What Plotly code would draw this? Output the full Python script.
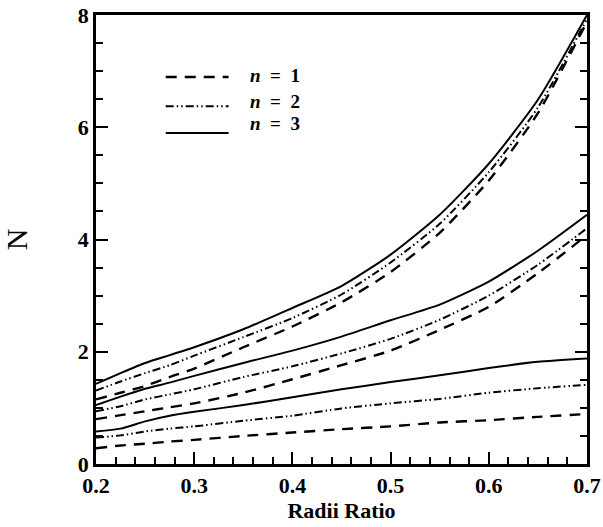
import plotly.graph_objects as go

# Radii ratio sample points
radii_ratio = [0.20, 0.225, 0.25, 0.275, 0.30, 0.35, 0.40, 0.45, 0.50, 0.55, 0.60, 0.65, 0.70]

# Upper family of curves
upper_n1 = [1.15, 1.27, 1.39, 1.55, 1.70, 2.08, 2.45, 2.88, 3.42, 4.12, 5.05, 6.25, 7.88]
upper_n2 = [1.31, 1.47, 1.62, 1.76, 1.93, 2.26, 2.60, 3.02, 3.59, 4.28, 5.20, 6.35, 7.93]
upper_n3 = [1.43, 1.62, 1.80, 1.94, 2.08, 2.40, 2.78, 3.17, 3.73, 4.44, 5.35, 6.49, 8.00]

# Middle family of curves
middle_n1 = [0.80, 0.87, 0.94, 1.01, 1.08, 1.27, 1.51, 1.76, 2.02, 2.39, 2.80, 3.40, 4.08]
middle_n2 = [0.94, 1.03, 1.15, 1.24, 1.33, 1.55, 1.74, 1.97, 2.23, 2.57, 3.00, 3.55, 4.20]
middle_n3 = [1.05, 1.20, 1.34, 1.45, 1.57, 1.80, 2.02, 2.27, 2.56, 2.84, 3.25, 3.80, 4.44]

# Lower family of curves
lower_n1 = [0.28, 0.33, 0.36, 0.40, 0.43, 0.50, 0.56, 0.62, 0.67, 0.74, 0.78, 0.84, 0.89]
lower_n2 = [0.47, 0.51, 0.58, 0.63, 0.67, 0.77, 0.86, 0.99, 1.08, 1.16, 1.27, 1.35, 1.41]
lower_n3 = [0.58, 0.63, 0.76, 0.86, 0.93, 1.05, 1.19, 1.33, 1.46, 1.58, 1.71, 1.82, 1.88]

x_ticks = [0.2, 0.3, 0.4, 0.5, 0.6, 0.7]
x_tick_text = ["0.2", "0.3", "0.4", "0.5", "0.6", "0.7"]
y_ticks = [0, 2, 4, 6, 8]
y_tick_text = ["0", "2", "4", "6", "8"]

legend_labels = [
    "<b><i>n</i>&nbsp;&nbsp;=&nbsp;&nbsp;1</b>",
    "<b><i>n</i>&nbsp;&nbsp;=&nbsp;&nbsp;2</b>",
    "<b><i>n</i>&nbsp;&nbsp;=&nbsp;&nbsp;3</b>",
]

DASH_N1 = "11px,8px"
DASH_N2 = "8px,3px,1.5px,3px,1.5px,3px"
styles = {
    1: dict(dash=DASH_N1, width=2.4),
    2: dict(dash=DASH_N2, width=2.0),
    3: dict(dash="solid", width=2.0),
}

series = [
    (upper_n1, 1), (upper_n2, 2), (upper_n3, 3),
    (middle_n1, 1), (middle_n2, 2), (middle_n3, 3),
    (lower_n1, 1), (lower_n2, 2), (lower_n3, 3),
]

fig = go.Figure()
for values, n in series:
    fig.add_trace(go.Scatter(
        x=radii_ratio, y=values, mode="lines",
        line=dict(color="black", shape="spline", smoothing=0.6, **styles[n]),
        showlegend=False, hoverinfo="skip",
    ))

# Hand-drawn legend block in the upper-left of the plot
legend_line_y = [0.862, 0.797, 0.737]
legend_text_y = [0.866, 0.807, 0.758]
for (ly, ty, label, n) in zip(legend_line_y, legend_text_y, legend_labels, [1, 2, 3]):
    fig.add_shape(type="line", xref="paper", yref="paper",
                  x0=0.142, x1=0.27, y0=ly, y1=ly,
                  line=dict(color="black", **styles[n]))
    fig.add_annotation(xref="paper", yref="paper", x=0.31, y=ty,
                       text=label, showarrow=False, xanchor="left", yanchor="middle",
                       font=dict(family="Liberation Serif", size=19, color="black"))

tick_font = dict(family="Liberation Serif", size=22, color="black", weight="bold")

fig.update_layout(
    width=603, height=527,
    margin=dict(l=96, r=16, t=15, b=63),
    paper_bgcolor="white", plot_bgcolor="white",
    showlegend=False,
    xaxis=dict(
        range=[0.2, 0.7], tickvals=x_ticks, ticktext=x_tick_text,
        showgrid=False, zeroline=False, automargin=False,
        showline=True, linecolor="black", linewidth=2.5, mirror=True,
        ticks="inside", ticklen=12, tickwidth=2, tickcolor="black",
        minor=dict(ticks="inside", dtick=0.02, ticklen=7, tickwidth=1.5, tickcolor="black"),
        tickfont=tick_font,
        title=dict(text="<b>Radii Ratio</b>", font=dict(family="Liberation Serif", size=22, color="black"), standoff=6),
    ),
    yaxis=dict(
        range=[0, 8], tickvals=y_ticks, ticktext=y_tick_text,
        showgrid=False, zeroline=False, automargin=False,
        showline=True, linecolor="black", linewidth=2.5, mirror="ticks",
        ticks="inside", ticklen=12, tickwidth=2, tickcolor="black",
        minor=dict(ticks="inside", dtick=0.5, ticklen=7, tickwidth=1.5, tickcolor="black"),
        tickfont=tick_font,
        title=dict(text="N", font=dict(family="Liberation Serif", size=30, color="black"), standoff=44),
    ),
)

fig.write_html("out.html")
